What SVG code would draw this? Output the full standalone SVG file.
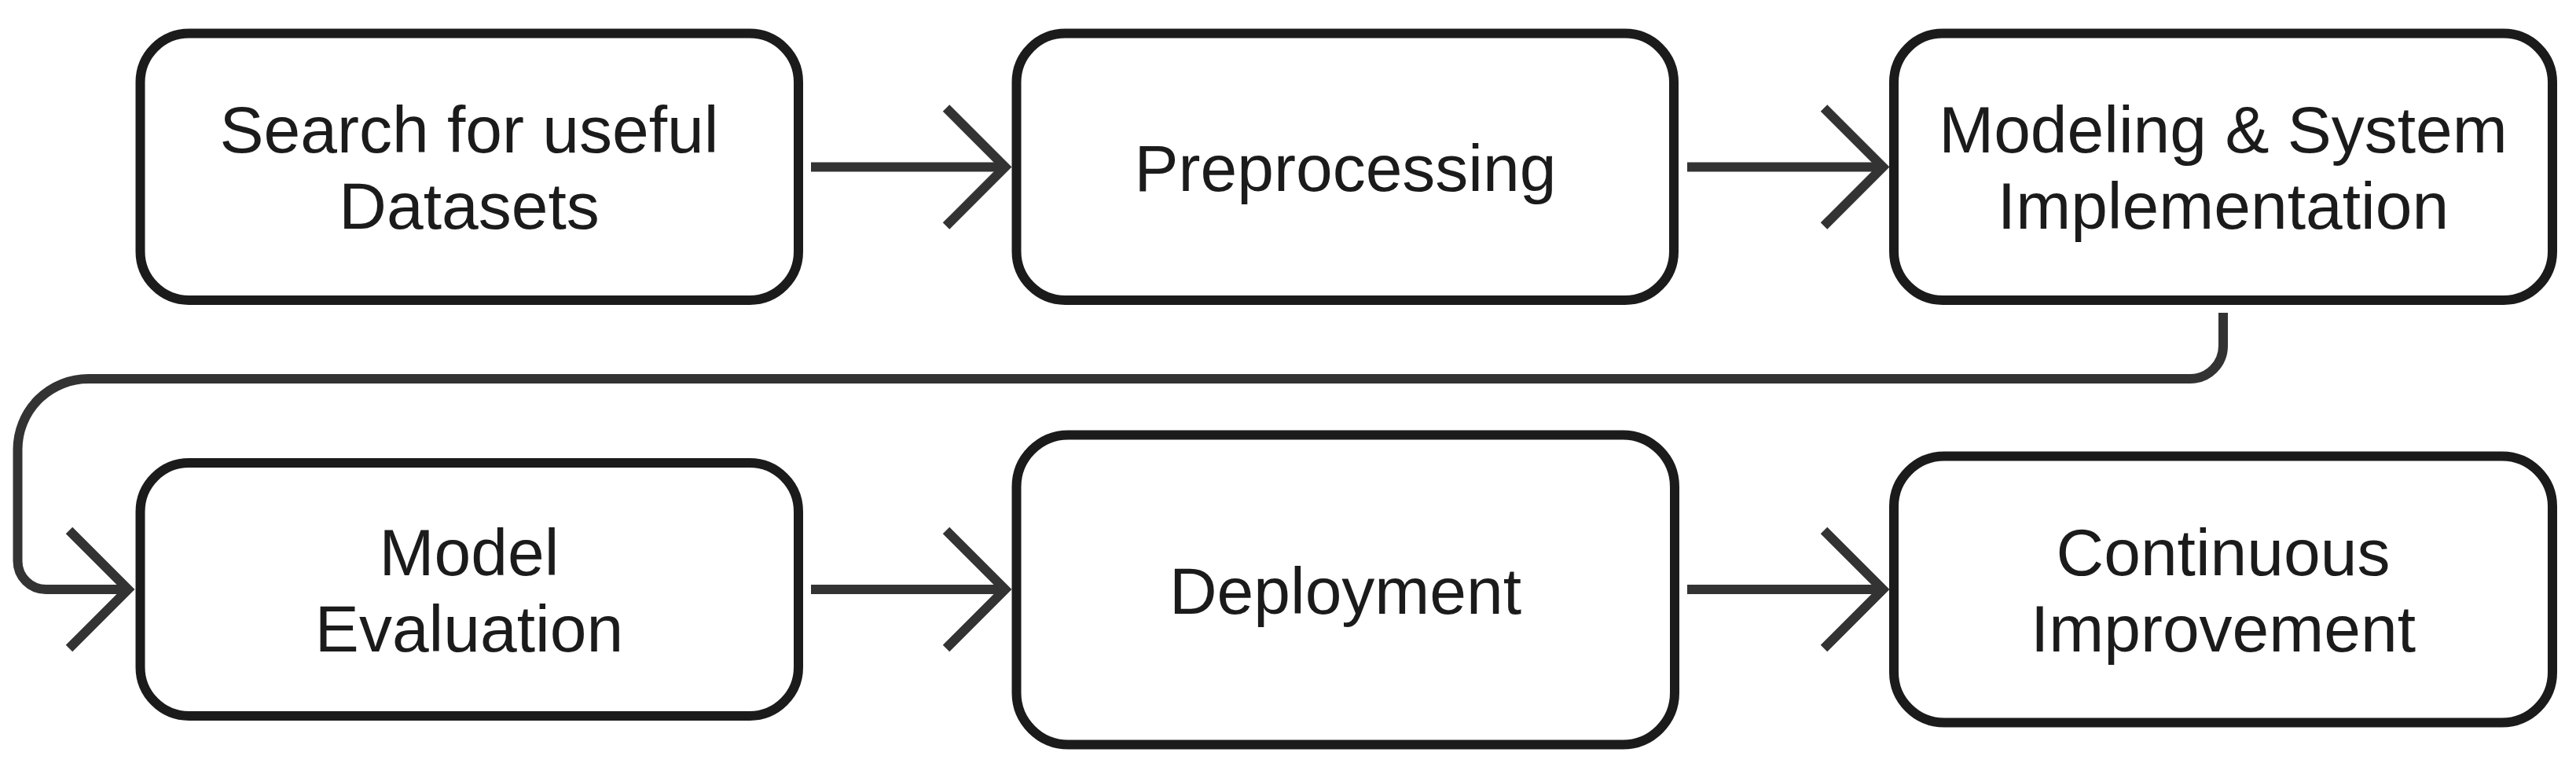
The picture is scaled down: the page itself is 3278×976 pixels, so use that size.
<svg xmlns="http://www.w3.org/2000/svg" width="3278" height="976" viewBox="0 0 3278 976">
<style>
.box{fill:#fff;stroke:#1b1b1b;stroke-width:12}
.lbl{font-family:"Liberation Sans",Arial,sans-serif;font-size:84px;fill:#1b1b1b;text-anchor:middle}
.edge{fill:none;stroke:#333;stroke-width:12;stroke-linejoin:round}
</style>
<defs>
<marker id="arr" markerUnits="userSpaceOnUse" viewBox="-90 -90 100 180" refX="0" refY="0" markerWidth="100" markerHeight="180" orient="auto" overflow="visible">
<path d="M-75,-75 L0,0 L-75,75" fill="none" stroke="#333" stroke-width="12" stroke-linejoin="miter" stroke-miterlimit="10"/>
</marker>
</defs>
<rect width="3278" height="976" fill="#fff"/>
<g id="connectors">
<path class="edge" d="M1032,212.5 H1279" marker-end="url(#arr)"/>
<path class="edge" d="M2147,212.5 H2396" marker-end="url(#arr)"/>
<path class="edge" d="M2829,398 V440 A42,42 0 0 1 2787,482 H112.5 A90,90 0 0 0 22.5,572 V714 A36,36 0 0 0 58.5,750 H163" marker-end="url(#arr)"/>
<path class="edge" d="M1032,750 H1279" marker-end="url(#arr)"/>
<path class="edge" d="M2147,750 H2396" marker-end="url(#arr)"/>
</g>
<g id="n1">
<rect class="box" x="178.5" y="42.5" width="837.5" height="339.5" rx="62"/>
<text class="lbl" x="597" y="194">Search for useful</text>
<text class="lbl" x="597" y="291">Datasets</text>
</g>
<g id="n2">
<rect class="box" x="1293.5" y="42.5" width="836.5" height="339.5" rx="62"/>
<text class="lbl" x="1712" y="242.5">Preprocessing</text>
</g>
<g id="n3">
<rect class="box" x="2410" y="42.5" width="838" height="339.5" rx="62"/>
<text class="lbl" x="2829" y="194">Modeling &amp; System</text>
<text class="lbl" x="2829" y="291">Implementation</text>
</g>
<g id="n4">
<rect class="box" x="178.5" y="589" width="837.5" height="322" rx="62"/>
<text class="lbl" x="597" y="731.5">Model</text>
<text class="lbl" x="597" y="828.5">Evaluation</text>
</g>
<g id="n5">
<rect class="box" x="1293.5" y="553.5" width="837.5" height="394" rx="66"/>
<text class="lbl" x="1712" y="780.5">Deployment</text>
</g>
<g id="n6">
<rect class="box" x="2410" y="580.5" width="838" height="339" rx="64"/>
<text class="lbl" x="2829" y="731.5">Continuous</text>
<text class="lbl" x="2829" y="828.5">Improvement</text>
</g>
</svg>
